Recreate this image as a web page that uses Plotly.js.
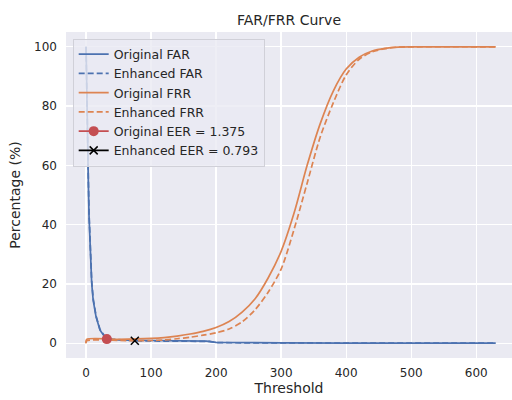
<!DOCTYPE html>
<html>
<head>
<meta charset="utf-8">
<script src="https://cdn.plot.ly/plotly-3.0.1.min.js"></script>
<style>html,body{margin:0;padding:0;background:#fff;}#chart{width:512px;height:400px;}</style>
</head>
<body>
<div id="chart"></div>
<script>
// ---- data ----
const farOrigThr = [0, 2, 3.6, 4.6, 6.2, 8.7, 11, 15.4, 21.5, 29, 40, 60, 100, 150, 185, 200, 250, 300, 400, 500, 630];
const farOrigVal = [100, 65, 54, 43, 31.4, 20.2, 14.5, 8.9, 4.4, 2.1, 1.2, 1.0, 0.9, 0.8, 0.7, 0.3, 0.15, 0.1, 0.05, 0.02, 0.0];

const farEnhThr = [0, 2, 3.6, 4.6, 6.2, 8.7, 11, 15.4, 21.5, 29, 40, 60, 75, 100, 150, 190, 200, 250, 630];
const farEnhVal = [100, 66, 55, 44, 32, 21, 15, 9.2, 4.6, 2.3, 1.4, 1.0, 0.8, 0.75, 0.7, 0.6, 0.2, 0.1, 0.0];

const frrOrigThr = [0, 1, 50, 100, 120, 140, 160, 180, 200, 220, 240, 260, 280, 300, 320, 340, 360, 380, 400, 420, 440, 460, 480, 500, 630];
const frrOrigVal = [0, 1.3, 1.3, 1.6, 1.9, 2.4, 3.1, 4.0, 5.3, 7.3, 10.5, 15.0, 22, 31, 44, 60, 74, 85, 92.5, 96.5, 98.6, 99.5, 99.9, 100, 100];

const frrEnhThr = [0, 1, 75, 100, 120, 140, 160, 180, 200, 220, 240, 260, 280, 300, 320, 340, 360, 380, 400, 420, 440, 460, 480, 500, 630];
const frrEnhVal = [0, 0.8, 0.8, 0.9, 1.1, 1.5, 2.0, 2.7, 3.5, 4.8, 7.2, 11.3, 17.2, 25, 38.5, 54, 69.5, 81, 90.5, 95.8, 98.3, 99.4, 99.9, 100, 100];

const eerOrig = {thr: [32], val: [1.375], label: 'Original EER = 1.375'};
const eerEnh = {thr: [75], val: [0.793], label: 'Enhanced EER = 0.793'};

const xTicks = [0, 100, 200, 300, 400, 500, 600];
const yTicks = [0, 20, 40, 60, 80, 100];

// ---- styling ----
const BLUE = '#4C72B0', ORANGE = '#DD8452', RED = '#C44E52';
const FONT = 'DejaVu Sans, sans-serif';
const TXT = '#262626';

const traces = [
  {x: farOrigThr, y: farOrigVal, name: 'Original FAR', mode: 'lines',
   line: {color: BLUE, width: 1.7}},
  {x: farEnhThr, y: farEnhVal, name: 'Enhanced FAR', mode: 'lines',
   line: {color: BLUE, width: 1.7, dash: '6px,3px'}},
  {x: frrOrigThr, y: frrOrigVal, name: 'Original FRR', mode: 'lines',
   line: {color: ORANGE, width: 1.7, shape: 'spline', smoothing: 0.8}},
  {x: frrEnhThr, y: frrEnhVal, name: 'Enhanced FRR', mode: 'lines',
   line: {color: ORANGE, width: 1.7, dash: '6px,3px', shape: 'spline', smoothing: 0.8}},
  {x: eerOrig.thr, y: eerOrig.val, name: eerOrig.label, mode: 'lines+markers',
   line: {color: RED, width: 1.7}, marker: {color: RED, size: 10, symbol: 'circle'}},
  {x: eerEnh.thr, y: eerEnh.val, name: eerEnh.label, mode: 'lines+markers',
   line: {color: '#000000', width: 1.7},
   marker: {color: '#000000', size: 8, symbol: 'x-thin-open', line: {color: '#000000', width: 1.5}}}
];

const layout = {
  width: 512, height: 400,
  margin: {l: 66, r: 0, t: 32, b: 42},
  paper_bgcolor: '#ffffff',
  plot_bgcolor: '#EAEAF2',
  font: {family: FONT, size: 12, color: TXT},
  title: {text: 'FAR/FRR Curve', x: 0.5, xref: 'paper', xanchor: 'center', y: 0.95, yref: 'container', yanchor: 'middle',
          font: {family: FONT, size: 14, color: TXT}},
  xaxis: {
    range: [-30.8, 655], tickvals: xTicks, ticktext: xTicks.map(String),
    showgrid: true, gridcolor: '#ffffff', gridwidth: 1.3, zeroline: false,
    showline: false, ticks: '', ticklabelstandoff: 6,
    tickfont: {family: FONT, size: 12, color: TXT},
    title: {text: 'Threshold', font: {family: FONT, size: 14, color: TXT}, standoff: 4}
  },
  yaxis: {
    range: [-5, 105], tickvals: yTicks, ticktext: yTicks.map(String),
    showgrid: true, gridcolor: '#ffffff', gridwidth: 1.3, zeroline: false,
    showline: false, ticks: '', ticklabelstandoff: 8,
    tickfont: {family: FONT, size: 12, color: TXT},
    title: {text: 'Percentage (%)', font: {family: FONT, size: 14, color: TXT}, standoff: 10}
  },
  showlegend: true,
  legend: {
    x: 0.015, y: 0.98, xanchor: 'left', yanchor: 'top',
    bgcolor: 'rgba(234,234,242,0.8)', bordercolor: '#d0d0d8', borderwidth: 1,
    font: {family: FONT, size: 12.5, color: TXT},
    tracegroupgap: 0, itemwidth: 30
  }
};

Plotly.newPlot('chart', traces, layout, {displayModeBar: false, staticPlot: true});
</script>
</body>
</html>
